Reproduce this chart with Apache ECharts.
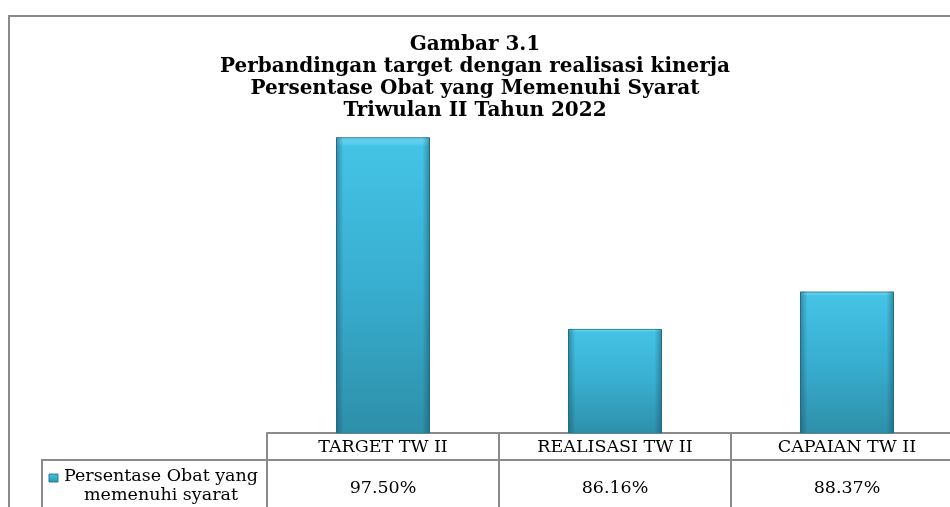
<!DOCTYPE html>
<html>
<head>
<meta charset="utf-8">
<script src="https://cdn.jsdelivr.net/npm/echarts@6/dist/echarts.min.js"></script>
<style>
html,body{margin:0;padding:0;background:#fff;}
#chart{width:950px;height:507px;}
</style>
</head>
<body>
<div id="chart"></div>
<script>
var titleLines = ['Gambar 3.1', 'Perbandingan target dengan realisasi kinerja', 'Persentase Obat yang Memenuhi Syarat', 'Triwulan II Tahun 2022'];
var categories = ['TARGET TW II', 'REALISASI TW II', 'CAPAIAN TW II'];
var values = [97.50, 86.16, 88.37];
var seriesName = 'Persentase Obat yang memenuhi syarat';
var legendLines = ['Persentase Obat yang', 'memenuhi syarat'];

var lineColor = '#8a8a8a';
var serif = '"DejaVu Serif", serif';
var tableFont = 17.5;

var chart = echarts.init(document.getElementById('chart'));

var barFill = new echarts.graphic.LinearGradient(0, 0, 0, 1, [
  {offset: 0, color: '#66d3f0'},
  {offset: 0.02, color: '#5ccdec'},
  {offset: 0.03, color: '#44c3e5'},
  {offset: 0.5, color: '#38aed0'},
  {offset: 1, color: '#2e8fa9'}
]);
var edgeFill = new echarts.graphic.LinearGradient(0, 0, 1, 0, [
  {offset: 0, color: 'rgba(20,70,90,0.45)'},
  {offset: 0.08, color: 'rgba(20,70,90,0.0)'},
  {offset: 0.92, color: 'rgba(20,70,90,0.0)'},
  {offset: 1, color: 'rgba(20,70,90,0.45)'}
]);

chart.setOption({
  animation: false,
  title: {
    text: titleLines.join('\n'),
    left: 'center',
    top: 29,
    textStyle: {fontFamily: serif, fontWeight: 'bold', fontSize: 20, lineHeight: 22, color: '#000'}
  },
  grid: {left: 267, top: 95, width: 696, height: 338, containLabel: false, outerBoundsMode: 'none'},
  xAxis: [
    {
      type: 'category',
      data: categories,
      axisLine: {show: true, lineStyle: {color: lineColor, width: 2}},
      axisTick: {show: true, length: 80, lineStyle: {color: lineColor, width: 2}},
      axisLabel: {color: '#000', fontFamily: serif, fontSize: tableFont, margin: 14, verticalAlign: 'middle'},
      splitLine: {show: false}
    },
    {
      type: 'category',
      data: categories,
      position: 'bottom',
      offset: 27,
      axisLine: {show: true, lineStyle: {color: lineColor, width: 2}},
      axisTick: {show: false},
      axisLabel: {
        color: '#000', fontFamily: serif, fontSize: tableFont, margin: 28, verticalAlign: 'middle',
        formatter: function (v, i) { return values[i].toFixed(2) + '%'; }
      }
    }
  ],
  yAxis: {type: 'value', min: 80, max: 100, show: false},
  series: [
    {
      name: seriesName,
      type: 'bar',
      data: values,
      barWidth: '40.5%',
      itemStyle: {color: barFill, borderColor: '#2f84a0', borderWidth: 1}
    },
    {
      name: seriesName + ' edge',
      type: 'bar',
      data: values,
      barWidth: '40.5%',
      barGap: '-100%',
      silent: true,
      itemStyle: {color: edgeFill}
    }
  ],
  graphic: [
    {type: 'rect', shape: {x: 9, y: 16, width: 1000, height: 600}, style: {fill: 'none', stroke: lineColor, lineWidth: 2}, z: 0},
    {type: 'polyline', shape: {points: [[42, 520], [42, 460], [267, 460]]}, style: {stroke: lineColor, lineWidth: 2, fill: 'none'}},
    {type: 'rect', shape: {x: 49, y: 474, width: 9, height: 8}, style: {fill: barFill, stroke: '#2b7f97', lineWidth: 1}},
    {type: 'text', x: 161, y: 476, style: {text: legendLines[0], textAlign: 'center', textVerticalAlign: 'middle', font: tableFont + 'px ' + serif, fill: '#000'}},
    {type: 'text', x: 161, y: 495, style: {text: legendLines[1], textAlign: 'center', textVerticalAlign: 'middle', font: tableFont + 'px ' + serif, fill: '#000'}}
  ]
});
</script>
</body>
</html>
